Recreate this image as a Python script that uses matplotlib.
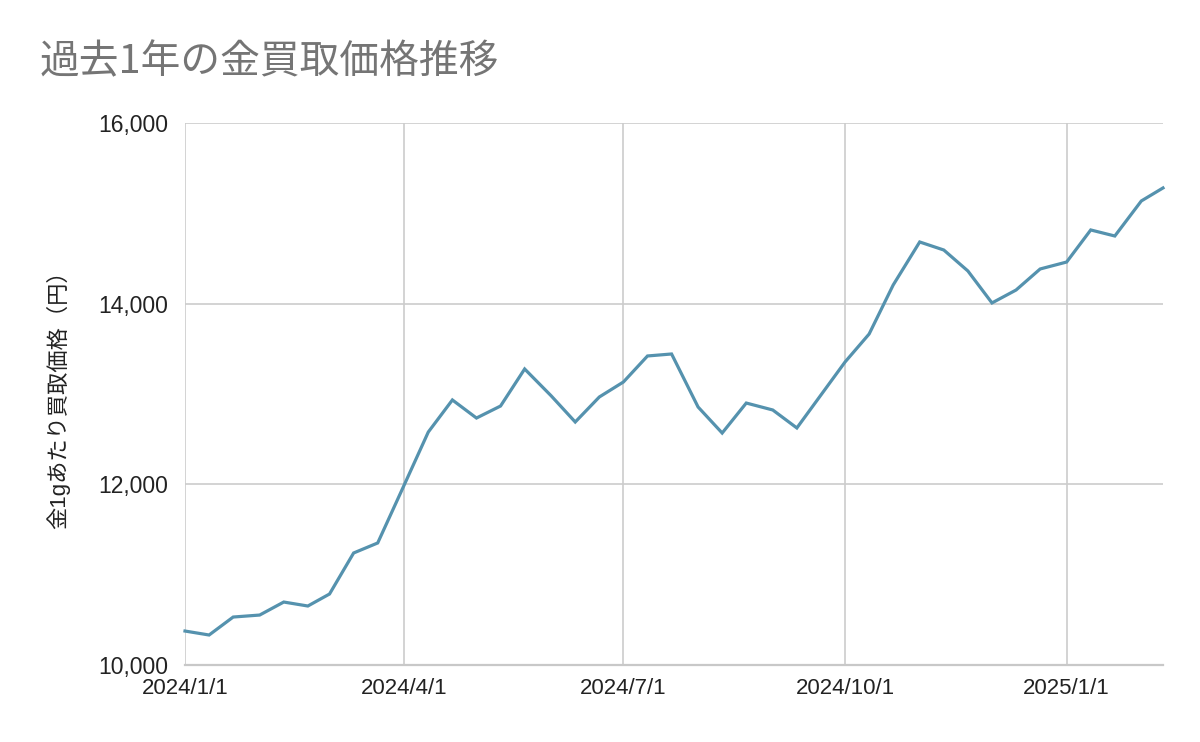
import matplotlib
matplotlib.use("Agg")
import matplotlib.pyplot as plt
import matplotlib.dates as mdates
import pandas as pd

dates = ["2024-01-01", "2024-01-11", "2024-01-21", "2024-02-01", "2024-02-11", "2024-02-21",
         "2024-03-01", "2024-03-11", "2024-03-21", "2024-04-01", "2024-04-11", "2024-04-21",
         "2024-05-01", "2024-05-11", "2024-05-21", "2024-06-01", "2024-06-11", "2024-06-21",
         "2024-07-01", "2024-07-11", "2024-07-21", "2024-08-01", "2024-08-11", "2024-08-21",
         "2024-09-01", "2024-09-11", "2024-09-21", "2024-10-01", "2024-10-11", "2024-10-21",
         "2024-11-01", "2024-11-11", "2024-11-21", "2024-12-01", "2024-12-11", "2024-12-21",
         "2025-01-01", "2025-01-11", "2025-01-21", "2025-02-01", "2025-02-10"]
prices = [10376, 10332, 10531, 10553, 10697, 10653,
          10786, 11240, 11351, 11993, 12579, 12934,
          12734, 12867, 13277, 12980, 12690, 12967,
          13133, 13421, 13443, 12856, 12568, 12900,
          12823, 12624, 12989, 13354, 13664, 14207,
          14683, 14594, 14362, 14008, 14151, 14384,
          14461, 14816, 14749, 15137, 15281]
tick_dates = ["2024-01-01", "2024-04-01", "2024-07-01", "2024-10-01", "2025-01-01"]
tick_labels = ["2024/1/1", "2024/4/1", "2024/7/1", "2024/10/1", "2025/1/1"]
y_ticks = [10000, 12000, 14000, 16000]
y_labels = ["10,000", "12,000", "14,000", "16,000"]

title = "過去1年の金買取価格推移"
ylabel = "金1gあたり買取価格（円）"

x = pd.to_datetime(dates)
xt = pd.to_datetime(tick_dates)

fig = plt.figure(figsize=(12, 7.42), dpi=100)
ax = fig.add_axes([185/1200, 1-665/742, 978/1200, (665-123)/742])

ax.plot(x, prices, color="#5592ae", lw=2.3, solid_joinstyle="miter", zorder=3, clip_on=False)

ax.set_xlim(x[0], x[-1])
ax.set_ylim(10000, 16000)
ax.set_xticks(xt)
ax.set_xticklabels(tick_labels, family=["Liberation Sans", "DejaVu Sans"], fontsize=16, color="#222222")
ax.set_yticks(y_ticks)
ax.set_yticklabels(y_labels, family=["Liberation Sans", "DejaVu Sans"], fontsize=16.5, color="#222222")
ax.tick_params(axis="both", length=0)
ax.tick_params(axis="y", pad=12)
ax.tick_params(axis="x", pad=9)
ax.grid(True, color="#cccccc", lw=1.2, zorder=1)
for s in ["top", "right", "left"]:
    ax.spines[s].set_visible(False)
ax.spines["bottom"].set_color("#c8c8c8")
ax.spines["bottom"].set_linewidth(1.6)

ax.set_ylabel(ylabel, family=["Liberation Sans", "Noto Sans CJK JP", "DejaVu Sans"], fontsize=16,
              color="#222222", labelpad=20)

fig.text(40/1200, 1-62/742, title, family=["Noto Sans CJK JP", "DejaVu Sans"], fontsize=28.6,
         color="#757575", ha="left", va="center")

fig.savefig("out.png", dpi=100, facecolor="white")
